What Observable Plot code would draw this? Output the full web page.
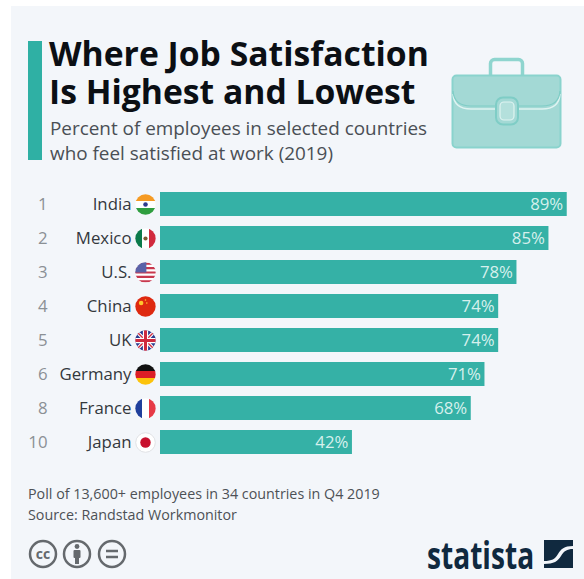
<!DOCTYPE html>
<html><head><meta charset="utf-8">
<script src="https://cdn.jsdelivr.net/npm/d3@7"></script>
<script src="https://cdn.jsdelivr.net/npm/@observablehq/plot@0.6"></script>
<style>
html,body{margin:0;padding:0;background:#fff;overflow:hidden}
#page{position:relative;width:584px;height:579px;overflow:hidden;font-family:"Open Sans",sans-serif}
#panel{position:absolute;left:11px;top:6px;right:0;bottom:0;background:#f3f6fa}
#accent{position:absolute;left:28px;top:41px;width:14px;height:119px;background:#2fb0a4}
#title{position:absolute;left:49px;top:35px;font-size:33.7px;line-height:37.5px;font-weight:700;color:#0b0f14;white-space:nowrap}
#subtitle{position:absolute;left:50px;top:116px;font-size:18.9px;line-height:25px;color:#4a4f55;white-space:nowrap}
#chart{position:absolute;left:0;top:180.5px}
#note{position:absolute;left:28px;top:484px;font-size:14.3px;line-height:20.5px;color:#4d5156;white-space:nowrap}
#cc{position:absolute;left:25px;top:536px}
#logo{position:absolute;left:427px;top:530px}
#logoText{font-family:"Open Sans",sans-serif;font-weight:700;font-size:38px;color:#10293f;transform:scaleX(.74);transform-origin:left center;display:inline-block;line-height:48px}
#case{position:absolute;left:440px;top:50px}
svg{display:block}
</style></head><body>
<div id="page">
<div id="panel"></div>
<div id="accent"></div>
<div id="title">Where Job Satisfaction<br>Is Highest and Lowest</div>
<div id="subtitle">Percent of employees in selected countries<br>who feel satisfied at work (2019)</div>
<svg id="case" width="130" height="105" viewBox="0 0 130 105">
 <rect x="50.5" y="9.5" width="32" height="22" rx="4" fill="#f3f6fa" stroke="#8fd5cf" stroke-width="3.5"/>
 <rect x="12.5" y="25.5" width="108" height="72" rx="4" fill="#a3d9d5" stroke="#8ad3cd" stroke-width="2"/>
 <path d="M13 44q1 15 18 15h25M120 44q-1 15-18 15H78" fill="none" stroke="#dff3f1" stroke-width="1.5"/>
 <path d="M13 41q1 15 18 15h25M120 41q-1 15-18 15H78" fill="none" stroke="#7fcdc6" stroke-width="1.2"/>
 <rect x="56" y="47.5" width="22" height="27" rx="7" fill="#a3d9d5" stroke="#7fcdc6" stroke-width="2"/>
 <rect x="60" y="52" width="14" height="18" rx="4" fill="#b4e0dc" stroke="#dff3f1" stroke-width="1.2"/>
</svg>
<div id="chart"></div>
<div id="note">Poll of 13,600+ employees in 34 countries in Q4 2019<br>Source: Randstad Workmonitor</div>
<svg id="cc" width="105" height="36" viewBox="0 0 105 36" fill="none" stroke="#65696d" stroke-width="2.5">
 <circle cx="18" cy="18" r="13"/><text x="18" y="23" text-anchor="middle" font-family="Open Sans" font-size="14" font-weight="700" stroke="none" fill="#65696d">cc</text>
 <circle cx="52" cy="18" r="13"/><circle cx="52" cy="10.5" r="2.4" fill="#65696d" stroke="none"/><rect x="48.5" y="14" width="7" height="8" rx="1" fill="#65696d" stroke="none"/><rect x="50" y="20" width="4" height="8" fill="#65696d" stroke="none"/>
 <circle cx="87" cy="18" r="13"/><path d="M81 15h12M81 21h12"/>
</svg>
<div id="logo"><span id="logoText">statista</span>
<svg style="position:absolute;left:117px;top:10px" width="29" height="28" viewBox="0 0 29 28"><path d="M0 0H29V6C20 6 17 9 14 14 11 19 8 21 0 21ZM29 9V28H0V24C10 24 14 21 17 16 20 11 23 9 29 9Z" fill="#10293f"/></svg>
</div>
</div>
<script>
const countries = ["India","Mexico","U.S.","China","UK","Germany","France","Japan"];
const ranks = [1,2,3,4,5,6,8,10];
const satisfied = [89,85,78,74,74,71,68,42];

const flagBodies = {
 India:'<rect width="24" height="8" fill="#f59a23"/><rect y="8" width="24" height="8" fill="#fff"/><rect y="16" width="24" height="8" fill="#2f9e3f"/><circle cx="12" cy="12" r="2.6" fill="#2d3a8c"/>',
 Mexico:'<rect width="8" height="24" fill="#0b7a4b"/><rect x="8" width="8" height="24" fill="#fff"/><rect x="16" width="8" height="24" fill="#d1293d"/><circle cx="12" cy="12" r="2.4" fill="#7a5a32"/>',
 "U.S.":'<rect width="24" height="24" fill="#fff"/><path d="M0 2h24M0 7h24M0 12h24M0 17h24M0 22h24" stroke="#c8384e" stroke-width="2.4"/><rect width="13" height="12" fill="#5a62a8"/>',
 China:'<rect width="24" height="24" fill="#de2910"/><circle cx="7" cy="8" r="2.6" fill="#ffc82e"/><circle cx="12" cy="4.5" r=".9" fill="#ffc82e"/><circle cx="13.5" cy="8" r=".9" fill="#ffc82e"/>',
 UK:'<rect width="24" height="24" fill="#2a3b8f"/><path d="M0 0L24 24M24 0L0 24" stroke="#fff" stroke-width="4"/><path d="M0 0L24 24M24 0L0 24" stroke="#cf2a3f" stroke-width="1.6"/><path d="M12 0V24M0 12H24" stroke="#fff" stroke-width="6"/><path d="M12 0V24M0 12H24" stroke="#cf2a3f" stroke-width="3.4"/>',
 Germany:'<rect width="24" height="8" fill="#111"/><rect y="8" width="24" height="8" fill="#dc1f26"/><rect y="16" width="24" height="8" fill="#fcc30b"/>',
 France:'<rect width="8" height="24" fill="#1f3f9c"/><rect x="8" width="8" height="24" fill="#fff"/><rect x="16" width="8" height="24" fill="#e63946"/>',
 Japan:'<rect width="24" height="24" fill="#fff"/><circle cx="12" cy="12" r="6" fill="#c8102e"/>'
};
const flagSrc = c => "data:image/svg+xml;utf8," + encodeURIComponent(
 `<svg xmlns="http://www.w3.org/2000/svg" viewBox="0 0 24 24"><clipPath id="c"><circle cx="12" cy="12" r="11.6"/></clipPath><g clip-path="url(#c)">${flagBodies[c]}</g>${c==="Japan"?'<circle cx="12" cy="12" r="11.2" fill="none" stroke="#d9dbe0"/>':''}</svg>`);

const table = countries.map((country,i)=>({country,rank:ranks[i],value:satisfied[i]}));
const unit = 4.57, left = 160, w = 584;

const chart = Plot.plot({
 width:w, height:284, marginLeft:left, marginRight:0, marginTop:0, marginBottom:0,
 style:{background:"transparent",fontFamily:"'Open Sans',sans-serif"},
 x:{domain:[0,(w-left)/unit],axis:null},
 y:{domain:countries,padding:0.29,align:0.5,label:null,axis:null},
 marks:[
  Plot.barX(table,{x:"value",y:"country",fill:"#35b1a6"}),
  Plot.text(table,{x:"value",y:"country",text:d=>d.value+"%",textAnchor:"end",dx:-4,fill:"#d5f0ed",fontSize:16.8}),
  Plot.axisY({tickSize:0,tickPadding:29,fontSize:16.8,color:"#33383d",anchor:"left",label:null}),
  Plot.text(table,{x:0,y:"country",text:"rank",textAnchor:"end",dx:-113,fill:"#8b9095",fontSize:16.8}),
  Plot.image(table,{x:0,y:"country",dx:-15,width:21,height:21,src:d=>flagSrc(d.country)})
 ]
});
document.getElementById("chart").appendChild(chart);
</script>
</body></html>
